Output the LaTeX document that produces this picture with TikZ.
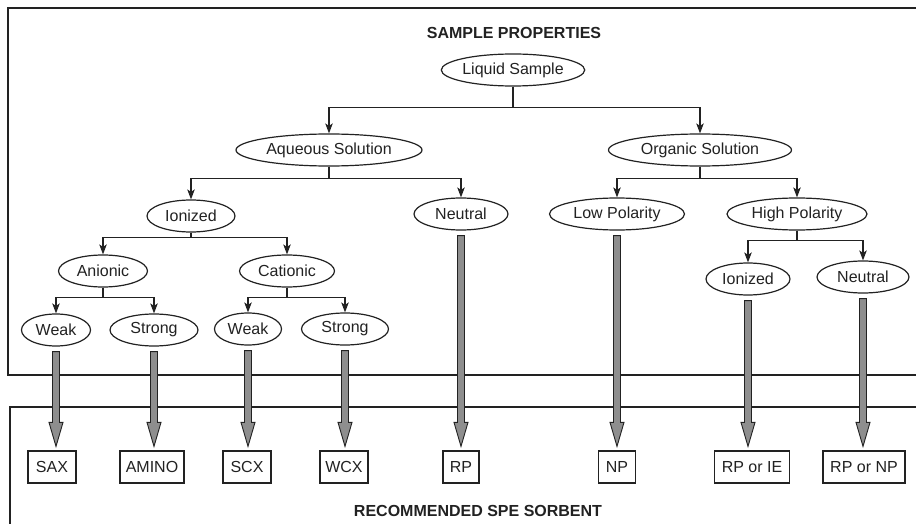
\documentclass[tikz,border=0pt]{standalone}
\usepackage{fontspec}
\setmainfont{Liberation Sans}
\usetikzlibrary{arrows.meta,shapes.geometric,calc}
\definecolor{ink}{HTML}{222222}
\definecolor{shaft}{HTML}{8E8E8E}
\tikzset{
  oval/.style={ellipse, draw=ink, line width=1.2pt, inner sep=0pt, minimum height=32pt, font=\fontsize{16}{19}\selectfont, text=ink},
  res/.style={rectangle, draw=ink, line width=1.2pt, inner sep=0pt, minimum height=32pt, font=\fontsize{16}{19}\selectfont, text=ink},
  title/.style={font=\bfseries\fontsize{16}{19}\selectfont, text=ink},
  conn/.style={draw=ink, line width=1.2pt, -{Stealth[length=10pt,width=7.5pt,inset=2.5pt]}},
  frame/.style={draw=ink, line width=1.3pt},
  bigarr/.style={draw=ink, fill=shaft, line width=0.9pt, line join=miter}
}
\newcommand\blockarr[2]{%
  \path[bigarr] let \p1=(#1.south), \p2=(#2.north) in
  (\x1-3.5pt,\y1-5pt) -- (\x1-3.5pt,\y2+28pt) -- (\x1-7pt,\y2+28pt) -- (\x1,\y2+4pt)
  -- (\x1+7pt,\y2+28pt) -- (\x1+3.5pt,\y2+28pt) -- (\x1+3.5pt,\y1-5pt) -- cycle;}
\begin{document}
\begin{tikzpicture}[x=1pt,y=-1pt]
\useasboundingbox (0,0) rectangle (916,524);
\fill[white] (0,0) rectangle (916,524);
% frames
\draw[frame] (916,8) -- (8,8) -- (8,375) -- (916,375);
\draw[frame] (916,407) -- (10,407) -- (10,524);
% titles
\node[title] (t1) at (514,33) {SAMPLE PROPERTIES};
\node[title] (t2) at (478,511) {RECOMMENDED SPE SORBENT};
% ellipses
\node[oval, minimum width=138pt] (liquid) at (513,70) {Liquid Sample};
\node[oval, minimum width=186pt] (aq) at (329,150) {Aqueous Solution};
\node[oval, minimum width=183pt] (org) at (700,150) {Organic Solution};
\node[oval, minimum width=88pt] (ion) at (191,216) {Ionized};
\node[oval, minimum width=94pt] (neu) at (461,214) {Neutral};
\node[oval, minimum width=135pt] (low) at (617,214) {Low Polarity};
\node[oval, minimum width=140pt] (high) at (797,214) {High Polarity};
\node[oval, minimum width=89pt] (an) at (103,271) {Anionic};
\node[oval, minimum width=95pt] (cat) at (287,271) {Cationic};
\node[oval, minimum width=69pt] (wa) at (56,330) {Weak};
\node[oval, minimum width=88pt] (sa) at (154,330) {Strong};
\node[oval, minimum width=67pt] (wc) at (248,329) {Weak};
\node[oval, minimum width=87pt] (sc) at (345,329) {Strong};
\node[oval, minimum width=84pt] (ion2) at (748,279) {Ionized};
\node[oval, minimum width=92pt] (neu2) at (863,277) {Neutral};
% result boxes
\node[res, minimum width=48pt] (sax) at (52,467) {SAX};
\node[res, minimum width=64pt] (amino) at (152,467) {AMINO};
\node[res, minimum width=48pt] (scx) at (247,467) {SCX};
\node[res, minimum width=48pt] (wcx) at (344,467) {WCX};
\node[res, minimum width=36pt] (rp) at (461,467) {RP};
\node[res, minimum width=37pt] (np) at (617,467) {NP};
\node[res, minimum width=75pt] (rpie) at (752,467) {RP or IE};
\node[res, minimum width=82pt] (rpnp) at (864,467) {RP or NP};
% tree connectors
\draw[conn] (liquid.south) -- ++(0,21) -| (aq.north);
\draw[conn] (liquid.south) -- ++(0,21) -| (org.north);
\draw[conn] (aq.south) -- ++(0,12) -| (ion.north);
\draw[conn] (aq.south) -- ++(0,12) -| (neu.north);
\draw[conn] (org.south) -- ++(0,12) -| (low.north);
\draw[conn] (org.south) -- ++(0,12) -| (high.north);
\draw[conn] (ion.south) -- ++(0,5) -| (an.north);
\draw[conn] (ion.south) -- ++(0,5) -| (cat.north);
\draw[conn] (an.south) -- ++(0,10) -| (wa.north);
\draw[conn] (an.south) -- ++(0,10) -| (sa.north);
\draw[conn] (cat.south) -- ++(0,10) -| (wc.north);
\draw[conn] (cat.south) -- ++(0,10) -| (sc.north);
\draw[conn] (high.south) -- ++(0,10) -| (ion2.north);
\draw[conn] (high.south) -- ++(0,10) -| (neu2.north);
% block arrows
\blockarr{wa}{sax}
\blockarr{sa}{amino}
\blockarr{wc}{scx}
\blockarr{sc}{wcx}
\blockarr{neu}{rp}
\blockarr{low}{np}
\blockarr{ion2}{rpie}
\blockarr{neu2}{rpnp}
\end{tikzpicture}
\end{document}
